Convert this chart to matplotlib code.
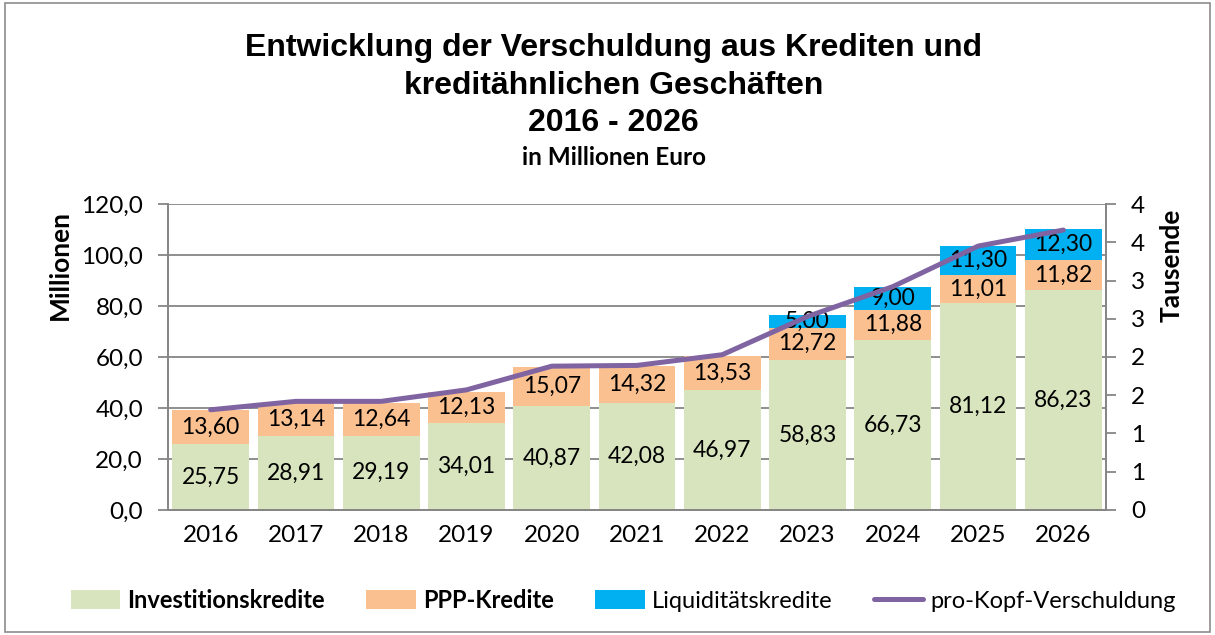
import numpy as np
import matplotlib
matplotlib.use("Agg")
from matplotlib import pyplot as plt
from matplotlib.ticker import FuncFormatter, MultipleLocator
from matplotlib.patches import Rectangle

# data
years = ['2016', '2017', '2018', '2019', '2020', '2021', '2022', '2023', '2024', '2025', '2026']
investitionskredite = [25.75, 28.91, 29.19, 34.01, 40.87, 42.08, 46.97, 58.83, 66.73, 81.12, 86.23]
ppp_kredite = [13.60, 13.14, 12.64, 12.13, 15.07, 14.32, 13.53, 12.72, 11.88, 11.01, 11.82]
liquiditaetskredite = [0, 0, 0, 0, 0, 0, 0, 5.00, 9.00, 11.30, 12.30]
pro_kopf = [1.31, 1.42, 1.42, 1.57, 1.88, 1.89, 2.03, 2.53, 2.92, 3.45, 3.66]  # Tausende

GREEN = '#D7E4BD'
ORANGE = '#FAC090'
BLUE = '#00B0F0'
PURPLE = '#8064A2'
GRID = '#868686'

plt.rcParams['font.family'] = ['Lato', 'DejaVu Sans']

fig = plt.figure(figsize=(12.15, 6.35), dpi=100)
fig.patches.append(Rectangle((0.004, 0.004), 0.992, 0.992, transform=fig.transFigure,
                             fill=False, edgecolor='#8c8c8c', linewidth=1.2))

ax = fig.add_axes([0.1383, 0.1969, 0.7720, 0.4818])
ax2 = ax.twinx()

x = np.arange(len(years))
inv = np.array(investitionskredite)
ppp = np.array(ppp_kredite)
liq = np.array(liquiditaetskredite)

b1 = ax.bar(x, inv, width=0.9, color=GREEN, label='Investitionskredite', zorder=2)
b2 = ax.bar(x, ppp, width=0.9, bottom=inv, color=ORANGE, label='PPP-Kredite', zorder=2)
b3 = ax.bar(x, liq, width=0.9, bottom=inv + ppp, color=BLUE, label='Liquiditätskredite', zorder=2)

def fmt(v):
    return ('%.2f' % v).replace('.', ',')

for i in range(len(years)):
    ax.text(x[i], inv[i] / 2, fmt(inv[i]), ha='center', va='center', fontsize=16.5, zorder=4)
    ax.text(x[i], inv[i] + ppp[i] / 2, fmt(ppp[i]), ha='center', va='center', fontsize=16.5, zorder=4)
    if liq[i] > 0:
        ax.text(x[i], inv[i] + ppp[i] + liq[i] / 2, fmt(liq[i]), ha='center', va='center',
                fontsize=16.5, zorder=4)

line, = ax2.plot(x, pro_kopf, color=PURPLE, linewidth=3.6, solid_capstyle='round',
                 label='pro-Kopf-Verschuldung', zorder=5)

ax.set_xlim(-0.5, len(years) - 0.5)
ax.set_ylim(0, 120)
ax2.set_ylim(0, 4)
ax.yaxis.set_major_locator(MultipleLocator(20))
ax2.yaxis.set_major_locator(MultipleLocator(0.5))
ax.yaxis.set_major_formatter(FuncFormatter(lambda v, p: ('%.1f' % v).replace('.', ',')))
ax2.yaxis.set_major_formatter(FuncFormatter(lambda v, p: '%d' % int(np.floor(v + 0.5))))
ax.set_xticks(x)
ax.set_xticklabels(years)

ax.grid(axis='y', color=GRID, linewidth=1.3, zorder=0)
ax.set_axisbelow(True)
for a in (ax, ax2):
    for s in a.spines.values():
        s.set_color(GRID)
        s.set_linewidth(1.3)
    a.spines['top'].set_visible(False)
ax.tick_params(axis='x', length=0, labelsize=17.5, pad=11)
ax.tick_params(axis='y', length=7, width=1.3, color=GRID, labelsize=17.5, pad=11)
ax2.tick_params(axis='y', length=7, width=1.3, color=GRID, labelsize=17.5, pad=11)

ax.set_ylabel('Millionen', fontsize=19, fontweight='bold')
ax.yaxis.set_label_coords(-0.103, 0.80)
ax2.set_ylabel('Tausende', fontsize=19, fontweight='bold', rotation=90)
ax2.yaxis.set_label_coords(1.057, 0.80)

# titles
fig.text(0.505, 0.925, 'Entwicklung der Verschuldung aus Krediten und', ha='center', va='center',
         fontsize=23, fontweight='bold', family='Liberation Sans')
fig.text(0.505, 0.865, 'kreditähnlichen Geschäften', ha='center', va='center',
         fontsize=23, fontweight='bold', family='Liberation Sans')
fig.text(0.505, 0.806, '2016 - 2026', ha='center', va='center',
         fontsize=23, fontweight='bold', family='Liberation Sans')
fig.text(0.505, 0.752, 'in Millionen Euro', ha='center', va='center',
         fontsize=17.5, fontweight='bold')

leg = fig.legend(handles=[b1, b2, b3, line], loc='center', bbox_to_anchor=(0.513, 0.055),
                 ncol=4, frameon=False, fontsize=17, handlelength=2.1, handleheight=0.9,
                 columnspacing=1.75, handletextpad=0.3)
for t in leg.get_texts()[:2]:
    t.set_fontweight('bold')

fig.savefig('out.png', dpi=100)
